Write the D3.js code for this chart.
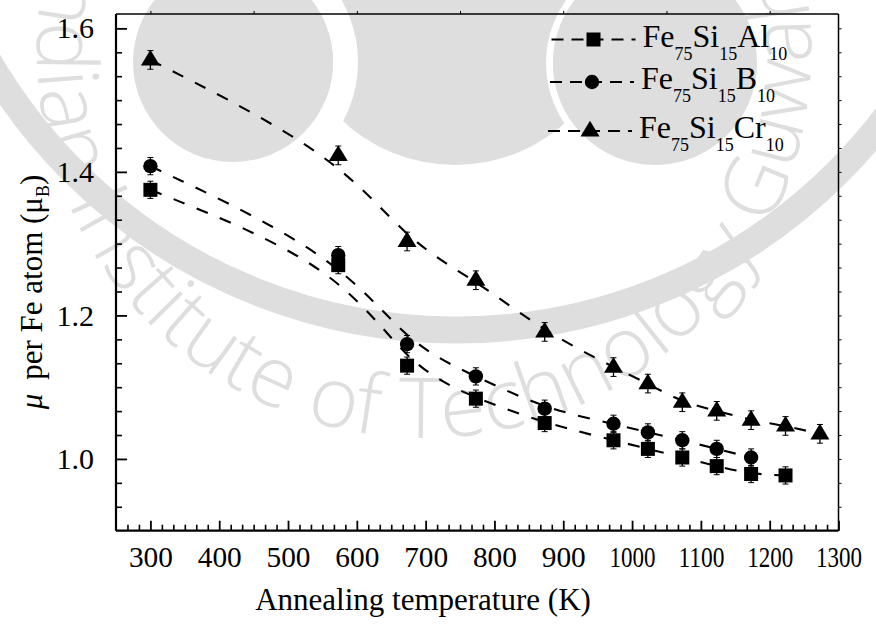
<!DOCTYPE html>
<html>
<head>
<meta charset="utf-8">
<script src="https://cdn.jsdelivr.net/npm/d3@7"></script>
<style>
  body { margin: 0; background: #fff; }
  svg { display: block; }
  text { fill: #000; }
</style>
</head>
<body>
<svg id="chart" width="876" height="625"></svg>
<script>
// Annealing temperatures (K)
const tempsAl = [300, 573, 673, 773, 873, 973, 1023, 1073, 1123, 1173, 1223];
const tempsB  = [300, 573, 673, 773, 873, 973, 1023, 1073, 1123, 1173];
const tempsCr = [300, 573, 673, 773, 873, 973, 1023, 1073, 1123, 1173, 1223, 1273];

// Moment per Fe atom (Bohr magnetons)
const momentAl = [1.375, 1.270, 1.130, 1.084, 1.050, 1.026, 1.014, 1.002, 0.990, 0.979, 0.977];
const momentB  = [1.408, 1.284, 1.160, 1.115, 1.070, 1.049, 1.037, 1.026, 1.014, 1.002];
const momentCr = [1.556, 1.423, 1.303, 1.249, 1.177, 1.128, 1.105, 1.079, 1.067, 1.054, 1.046, 1.035];

// Error bar half-widths
const errAl = [0.012, 0.012, 0.012, 0.012, 0.012, 0.012, 0.012, 0.012, 0.012, 0.012, 0.012];
const errB  = [0.012, 0.012, 0.012, 0.012, 0.012, 0.012, 0.012, 0.012, 0.012, 0.012];
const errCr = [0.013, 0.013, 0.013, 0.013, 0.013, 0.013, 0.013, 0.013, 0.013, 0.013, 0.013, 0.013];

// Axis ticks
const xMajorTicks = [300, 400, 500, 600, 700, 800, 900, 1000, 1100, 1200, 1300];
const yMajorTicks = [1.0, 1.2, 1.4, 1.6];

const seriesNames = [
  ["Fe", "75", "Si", "15", "Al", "10"],
  ["Fe", "75", "Si", "15", "B", "10"],
  ["Fe", "75", "Si", "15", "Cr", "10"]
];
const markerShapes = ["square", "circle", "triangle"];

const watermarkText = "Indian Institute of Technology Guwahati";

const SERIF = '"Liberation Serif", "Times New Roman", Times, Tinos, "Nimbus Roman", FreeSerif, "DejaVu Serif", "Noto Serif", serif';
const WM_GRAY = "#dedede";

const series = [
  { t: tempsAl, m: momentAl, e: errAl },
  { t: tempsB,  m: momentB,  e: errB },
  { t: tempsCr, m: momentCr, e: errCr }
].map((s, i) => ({
  name: seriesNames[i],
  shape: markerShapes[i],
  points: s.t.map((t, j) => ({ t, m: s.m[j], e: s.e[j] }))
}));

const svg = d3.select("#chart");
const plot = { left: 116, right: 838.5, top: 14, bottom: 530.7 };

// ---- faint institutional watermark behind the chart ----
const wm = svg.append("g").attr("class", "watermark");
wm.append("circle").attr("cx", 456).attr("cy", -211).attr("r", 541)
  .attr("fill", "none").attr("stroke", WM_GRAY).attr("stroke-width", 27);
wm.append("circle").attr("cx", 455).attr("cy", 0).attr("r", 165).attr("fill", WM_GRAY);
wm.append("circle").attr("cx", 233).attr("cy", 62).attr("r", 112.5)
  .attr("fill", "none").attr("stroke", "#fff").attr("stroke-width", 25);
wm.append("circle").attr("cx", 233).attr("cy", 62).attr("r", 100).attr("fill", WM_GRAY);
wm.append("circle").attr("cx", 655).attr("cy", 63).attr("r", 105.5)
  .attr("fill", "none").attr("stroke", "#fff").attr("stroke-width", 7);
wm.append("circle").attr("cx", 655).attr("cy", 63).attr("r", 102).attr("fill", WM_GRAY);

// lettering runs along a circle, tops of the letters toward its centre
const ring = { cx: 424, cy: 51, r: 387 };
const angles = d3.range(260, -90, -1);
const ringPts = angles.map(a => {
  const rad = a * Math.PI / 180;
  return [ring.cx + ring.r * Math.cos(rad), ring.cy + ring.r * Math.sin(rad)];
});
wm.append("defs").append("path").attr("id", "wm-ring").attr("d", d3.line()(ringPts));
const arcLen = a => (260 - a) * Math.PI / 180 * ring.r;
const wmFont = { family: '"Open Sans", Lato, "DejaVu Sans", sans-serif', size: 84, weight: 300 };
const probe = svg.append("text").style("font-family", wmFont.family)
  .attr("font-size", wmFont.size).attr("font-weight", wmFont.weight)
  .text(watermarkText.slice(0, watermarkText.indexOf("Tech")));
const prefixLen = probe.node().getComputedTextLength();
probe.remove();
wm.append("text")
  .style("font-family", wmFont.family).attr("font-size", wmFont.size).attr("font-weight", wmFont.weight)
  .style("fill", WM_GRAY)
  .append("textPath").attr("href", "#wm-ring")
  .attr("startOffset", arcLen(97) - prefixLen)
  .text(watermarkText);

// ---- scales ----
const x = d3.scaleLinear().domain([250, 1300]).range([plot.left, plot.right]);
const y = d3.scaleLinear().domain([0.9, 1.62]).range([plot.bottom, plot.top]);

// minor ticks: five between each pair of majors
const xAll = d3.range(0, 64).map(k => 250 + k * 100 / 6).filter(v => v > 250.1 && v < 1299.9);
const xMinor = xAll.filter(v => xMajorTicks.every(mj => Math.abs(mj - v) > 0.5));
const yAll = d3.range(0, 23).map(k => 0.9 + k * 0.2 / 6).filter(v => v > 0.901 && v < 1.619);
const yMinor = yAll.filter(v => yMajorTicks.every(mj => Math.abs(mj - v) > 0.001));

// frame: top and right edges thin, bottom and left heavy
svg.append("line").attr("x1", plot.left).attr("x2", plot.right).attr("y1", plot.top).attr("y2", plot.top)
  .attr("stroke", "#000").attr("stroke-width", 1.3);
svg.append("line").attr("x1", plot.right).attr("x2", plot.right).attr("y1", plot.top).attr("y2", plot.bottom)
  .attr("stroke", "#000").attr("stroke-width", 1.5);

// top axis: short outward ticks every 150 K
svg.append("g").attr("transform", `translate(0,${plot.top})`)
  .call(d3.axisTop(x).tickValues(d3.range(300, 1300, 150)).tickSize(3).tickFormat(""))
  .call(g => g.select(".domain").remove())
  .call(g => g.selectAll("line").attr("stroke-width", 1));

// right axis: short outward ticks
svg.append("g").attr("transform", `translate(${plot.right},0)`)
  .call(d3.axisRight(y).tickValues(yAll).tickSize(3).tickFormat(""))
  .call(g => g.select(".domain").remove())
  .call(g => g.selectAll("line").attr("stroke-width", 1));

// bottom axis
const gx = svg.append("g").attr("transform", `translate(0,${plot.bottom})`);
gx.append("g")
  .call(d3.axisBottom(x).tickValues(xMinor).tickSize(-6).tickFormat(""))
  .call(g => g.select(".domain").remove())
  .call(g => g.selectAll("line").attr("stroke-width", 1.6));
gx.append("g")
  .call(d3.axisBottom(x).tickValues(xMajorTicks).tickSizeInner(-10).tickSizeOuter(0).tickPadding(15).tickFormat(d3.format("d")))
  .call(g => g.attr("font-family", null))
  .call(g => g.select(".domain").attr("stroke-width", 2.2).attr("d", `M${plot.left},0H${plot.right}`))
  .call(g => g.selectAll("line").attr("stroke-width", 1.8))
  .call(g => g.selectAll("text")
    .style("font-family", SERIF).attr("font-size", 30).attr("dy", "0.71em")
    .each(function (d) {
      d3.select(this).attr("textLength", d >= 1000 ? 46 : 44).attr("lengthAdjust", "spacingAndGlyphs");
    }));

// left axis
const gy = svg.append("g").attr("transform", `translate(${plot.left},0)`);
gy.append("g")
  .call(d3.axisLeft(y).tickValues(yMinor).tickSize(-6).tickFormat(""))
  .call(g => g.select(".domain").remove())
  .call(g => g.selectAll("line").attr("stroke-width", 1.6));
gy.append("g")
  .call(d3.axisLeft(y).tickValues(yMajorTicks).tickSizeInner(-11).tickSizeOuter(0).tickPadding(22).tickFormat(d3.format(".1f")))
  .call(g => g.attr("font-family", null))
  .call(g => g.select(".domain").attr("stroke-width", 2.2).attr("d", `M0,${plot.top}V${plot.bottom}`))
  .call(g => g.selectAll("line").attr("stroke-width", 1.8))
  .call(g => g.selectAll("text").style("font-family", SERIF).attr("font-size", 30));

// axis titles
svg.append("text")
  .attr("x", 423).attr("y", 610)
  .attr("text-anchor", "middle").attr("font-size", 31)
  .style("font-family", SERIF)
  .text("Annealing temperature (K)");

const yTitle = svg.append("text")
  .attr("transform", "translate(42,292) rotate(-90)")
  .attr("text-anchor", "middle").attr("font-size", 31)
  .style("font-family", SERIF);
yTitle.append("tspan").attr("font-style", "italic").text("\u03bc");
yTitle.append("tspan").text("\u2009 per Fe atom (\u03bc");
yTitle.append("tspan").attr("font-size", 18).attr("dy", 7).text("B");
yTitle.append("tspan").attr("dy", -7).text(")");

// marker drawing
function drawMarker(g, shape) {
  if (shape === "square") {
    g.append("rect").attr("x", -7).attr("y", -7).attr("width", 14).attr("height", 14).attr("fill", "#000");
  } else if (shape === "circle") {
    g.append("circle").attr("r", 7.2).attr("fill", "#000");
  } else {
    g.append("path").attr("d", "M0,-10.2L9.5,5.6L-9.5,5.6Z").attr("fill", "#000");
  }
}

// B-spline connecting curves
const line = d3.line().x(d => x(d.t)).y(d => y(d.m)).curve(d3.curveBasis);
const plotG = svg.append("g");
series.forEach(s => {
  plotG.append("path")
    .attr("d", line(s.points))
    .attr("fill", "none").attr("stroke", "#000").attr("stroke-width", 2.1)
    .attr("stroke-dasharray", "12,13");
});

// error bars and markers
series.forEach(s => {
  const g = plotG.append("g");
  s.points.forEach(p => {
    const px = x(p.t);
    g.append("line").attr("x1", px).attr("x2", px)
      .attr("y1", y(p.m - p.e)).attr("y2", y(p.m + p.e))
      .attr("stroke", "#000").attr("stroke-width", 1.3);
    [p.m - p.e, p.m + p.e].forEach(v => {
      g.append("line").attr("x1", px - 3).attr("x2", px + 3)
        .attr("y1", y(v)).attr("y2", y(v))
        .attr("stroke", "#000").attr("stroke-width", 1);
    });
    const mk = g.append("g").attr("transform", `translate(${px},${y(p.m)})`);
    drawMarker(mk, s.shape);
  });
});

// legend
const legendRows = [39.5, 82, 131];
const legendLeft = [551.5, 550, 548];
const legend = svg.append("g");
series.forEach((s, i) => {
  const ly = legendRows[i];
  const lx = legendLeft[i];
  legend.append("line")
    .attr("x1", lx).attr("x2", lx + 84).attr("y1", ly).attr("y2", ly)
    .attr("stroke", "#000").attr("stroke-width", 2.1).attr("stroke-dasharray", "12,8");
  const mk = legend.append("g").attr("transform", `translate(${lx + 42},${ly})`);
  drawMarker(mk, s.shape);
  const t = legend.append("text").attr("x", lx + 91).attr("y", ly + 7).attr("font-size", 32)
    .style("font-family", SERIF);
  s.name.forEach((part, k) => {
    const sub = k % 2 === 1;
    t.append("tspan")
      .attr("font-size", sub ? 18 : 32)
      .attr("dy", k === 0 ? 0 : (sub ? 13 : -13))
      .text(part);
  });
});
</script>
</body>
</html>
